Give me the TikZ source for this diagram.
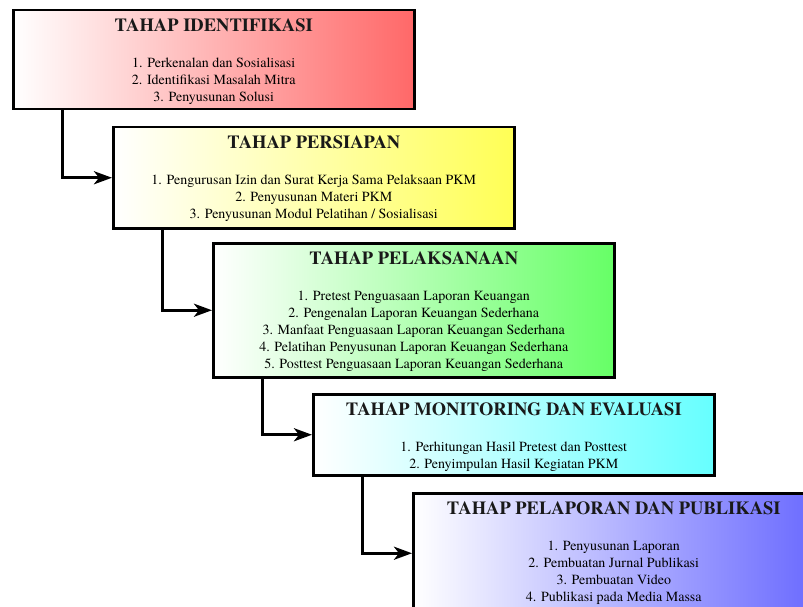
\documentclass[tikz,border=0pt]{standalone}
\usepackage{fontspec}
\setmainfont{texgyretermes}[Extension=.otf, UprightFont=*-regular,
  BoldFont=*-bold, ItalicFont=*-italic, BoldItalicFont=*-bolditalic]
\usetikzlibrary{arrows.meta}

\definecolor{idRed}{HTML}{FF6868}
\definecolor{prepYellow}{HTML}{FFFF55}
\definecolor{execGreen}{HTML}{66FF66}
\definecolor{monCyan}{HTML}{66FFFF}
\definecolor{repBlue}{HTML}{6B6BFF}

\def\boxW{401}
\def\picW{803}
\def\picH{607}

\begin{document}
\begin{tikzpicture}[x=1pt, y=-1pt,
    stage/.style={draw=black, line width=2.5pt, anchor=north west, inner sep=0pt,
      minimum width=\boxW pt, left color=white, right color=#1},
    stagetitle/.style={inner sep=0pt, text=black!90,
      font=\fontsize{18.5}{20}\selectfont\bfseries},
    stageitems/.style={anchor=north, inner sep=0pt, align=center,
      font=\fontsize{14}{17}\selectfont},
    flow/.style={-{Stealth[length=18pt,width=13pt,inset=5pt]}, line width=3pt}]
      \useasboundingbox (0,0) rectangle (\picW,\picH);
      \clip (0,0) rectangle (\picW,\picH);

      \node[stage=idRed, minimum height=99pt] (b1) at (12,9) {};
      \node[stage=prepYellow, minimum height=101pt] (b2) at (112,126) {};
      \node[stage=execGreen, minimum height=134pt] (b3) at (212,242) {};
      \node[stage=monCyan, minimum height=81pt] (b4) at (312,393) {};
      \node[stage=repBlue, minimum height=120pt] (b5) at (412,492) {};

      \node[stagetitle] (t1) at ([yshift=-16pt]b1.north) {TAHAP IDENTIFIKASI};
      \node[stagetitle] (t2) at ([yshift=-16pt]b2.north) {TAHAP PERSIAPAN};
      \node[stagetitle] (t3) at ([yshift=-16pt]b3.north) {TAHAP PELAKSANAAN};
      \node[stagetitle] (t4) at ([yshift=-16pt]b4.north) {TAHAP MONITORING DAN EVALUASI};
      \node[stagetitle] (t5) at ([yshift=-16pt]b5.north) {TAHAP PELAPORAN DAN PUBLIKASI};

      \node[stageitems] (l1) at ([yshift=-49pt]b1.north) {1. Perkenalan dan Sosialisasi\\
        2. Identifikasi Masalah Mitra\\ 3. Penyusunan Solusi};
      \node[stageitems] (l2) at ([yshift=-49pt]b2.north) {1. Pengurusan Izin dan Surat Kerja Sama Pelaksaan PKM\\
        2. Penyusunan Materi PKM\\ 3. Penyusunan Modul Pelatihan / Sosialisasi};
      \node[stageitems] (l3) at ([yshift=-49pt]b3.north) {1. Pretest Penguasaan Laporan Keuangan\\
        2. Pengenalan Laporan Keuangan Sederhana\\
        3. Manfaat Penguasaan Laporan Keuangan Sederhana\\
        4. Pelatihan Penyusunan Laporan Keuangan Sederhana\\
        5. Posttest Penguasaan Laporan Keuangan Sederhana};
      \node[stageitems] (l4) at ([yshift=-49pt]b4.north) {1. Perhitungan Hasil Pretest dan Posttest\\
        2. Penyimpulan Hasil Kegiatan PKM};
      \node[stageitems] (l5) at ([yshift=-49pt]b5.north) {1. Penyusunan Laporan\\
        2. Pembuatan Jurnal Publikasi\\ 3. Pembuatan Video\\
        4. Publikasi pada Media Massa};

      \foreach \a/\b in {b1/b2, b2/b3, b3/b4, b4/b5} {
          \draw[flow] ([xshift=50pt]\a.south west) |- (\b.west);
      }
    \end{tikzpicture}
\end{document}
